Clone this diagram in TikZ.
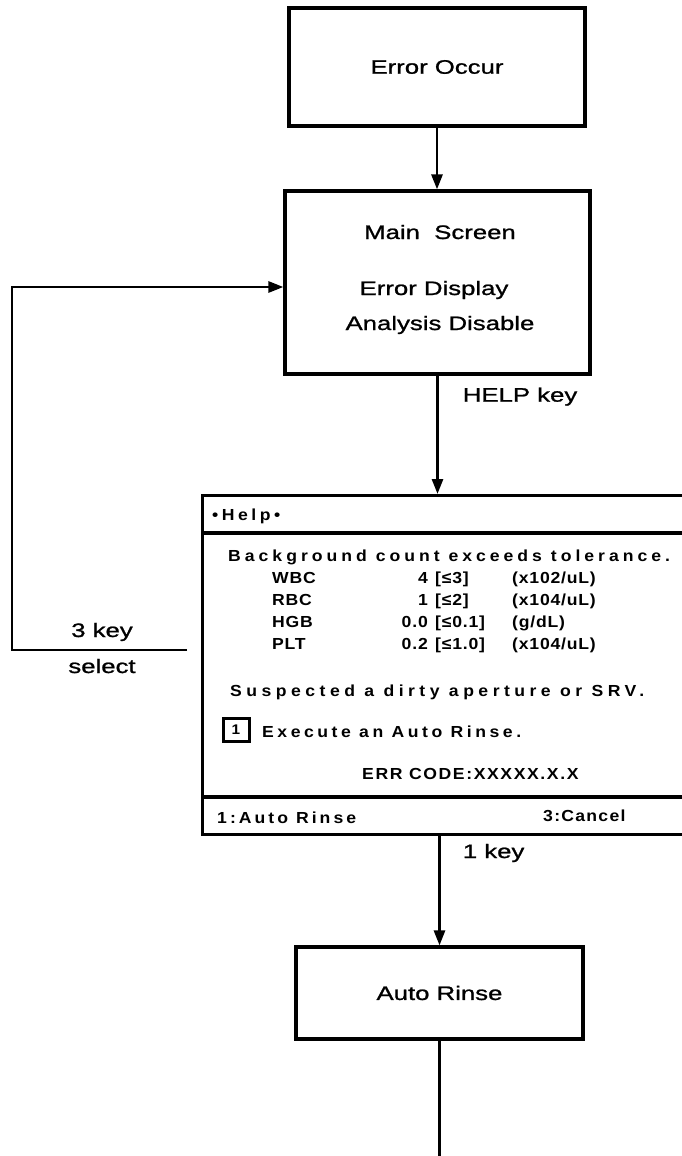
\documentclass[tikz,border=0pt]{standalone}
\usepackage{fontspec}
\setmainfont{Liberation Sans}
\newfontfamily\labelfont{Liberation Sans}[FakeStretch=1.32, FakeBold=1.1]
\newfontfamily\lcdfont{Liberation Sans Bold}[FakeStretch=1.1]
\usetikzlibrary{arrows.meta}

\begin{document}
\begin{tikzpicture}[x=1pt, y=-1pt,
  box/.style={draw, line width=3.2pt, inner sep=0pt},
  lbl/.style={font=\labelfont\fontsize{19.5}{23}\selectfont, inner sep=0pt, anchor=base},
  lcd/.style={font={\lcdfont\fontsize{16}{18}\selectfont\addfontfeatures{LetterSpace=#1}},
    inner sep=0pt, anchor=base west},
  lcd/.default=22,
  flow/.style={line width=2.7pt, -{Triangle[length=15pt, width=11pt]}}]
\useasboundingbox (0,0) rectangle (682,1156);
% flow boxes
\node[box, lbl, anchor=center, minimum width=296pt, minimum height=118pt] (errocc) at (437,67) {Error Occur};
\node[box, minimum width=305pt, minimum height=183pt] (mainscr) at (437.5,282.5) {};
\node[lbl] (mainttl) at (440,239) {Main\ \ Screen};
\node[lbl] (maindisp) at (434,295) {Error Display};
\node[lbl] (mainana) at (440,330) {Analysis Disable};
\node[box, lbl, anchor=center, minimum width=287pt, minimum height=92pt] (autor) at (439.5,993) {Auto Rinse};
% help screen, cut off at the right edge
\node[box, anchor=north west, minimum width=520pt, minimum height=339pt] (helpscr) at (201,494) {};
\draw[line width=3.2pt] (201,533) -- (721,533);
\draw[line width=3.2pt] (201,797) -- (721,797);
\node[lcd] (helpttl) at (212,520) {•Help•};
\node[lcd=25] (bgline) at (228,561) {Background count exceeds tolerance.};
\foreach \nm/\val/\lim/\unit [count=\i] in {WBC/4/{[≤3]}/{(x102/uL)}, RBC/1/{[≤2]}/{(x104/uL)}, HGB/0.0/{[≤0.1]}/{(g/dL)}, PLT/0.2/{[≤1.0]}/{(x104/uL)}}{
  \node[lcd=5] (par\i) at (272,{583+22*(\i-1)}) {\nm};
  \node[lcd=5, anchor=base east] (val\i) at (428,{583+22*(\i-1)}) {\val};
  \node[lcd=5] (lim\i) at (435,{583+22*(\i-1)}) {\lim};
  \node[lcd=5] (unit\i) at (512,{583+22*(\i-1)}) {\unit};
}
\node[lcd=28] (suspline) at (230,696) {Suspected a dirty aperture or SRV.};
\node[draw, line width=3pt, minimum width=26pt, minimum height=23pt, inner sep=0pt,
  font=\lcdfont\fontsize{14}{15}\selectfont] (keyone) at (236,730) {1};
\node[lcd] (execline) at (262,737) {Execute an Auto Rinse.};
\node[lcd=10] (errcode) at (362,779) {ERR CODE:XXXXX.X.X};
\node[lcd=19] (softone) at (217,823) {1:Auto Rinse};
\node[lcd=8] (softthree) at (543,821) {3:Cancel};
% connectors
\draw[flow] (errocc.south) -- (errocc.south |- mainscr.north);
\draw[flow] (mainscr.south) -- (mainscr.south |- helpscr.north)
  node[lbl, pos=0.22, anchor=base west, xshift=24pt] (helpkey) {HELP key};
\draw[flow] (autor.north |- helpscr.south) -- (autor.north)
  node[lbl, pos=0.2, anchor=base west, xshift=22pt] (onekey) {1 key};
\coordinate (bottomend) at (0,1156);
\draw[line width=2.7pt] (autor.south) -- (autor.south |- bottomend);
% 3 key loop back to the main screen
\coordinate (selend) at (187,650);
\coordinate (loopc) at (12,287);
\draw[flow] (selend) -| (loopc) -- (loopc -| mainscr.west);
\node[lbl] (threekey) at (102,637) {3 key};
\node[lbl] (selectlbl) at (102,673) {select};
\end{tikzpicture}
\end{document}
